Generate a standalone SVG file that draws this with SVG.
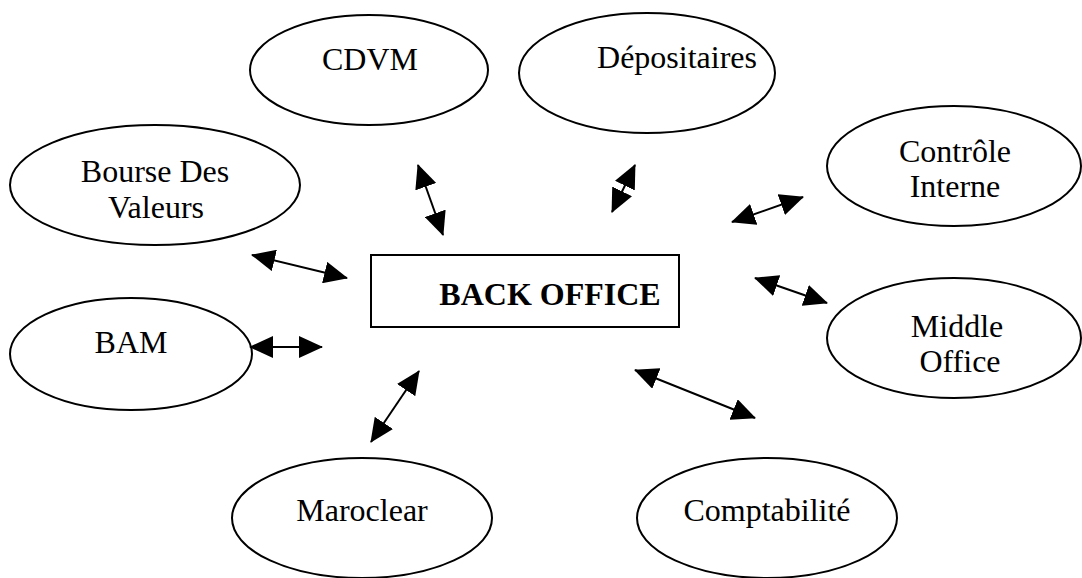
<svg xmlns="http://www.w3.org/2000/svg" width="1082" height="578" viewBox="0 0 1082 578">
<style>
.n{fill:#fff;stroke:#000;stroke-width:2}
.t{font-family:"Liberation Serif","Times New Roman",serif;font-size:32px;fill:#000;text-anchor:middle}
.b{font-weight:bold}
.c line{stroke:#000;stroke-width:2;marker-start:url(#ah);marker-end:url(#ah)}
</style>
<defs>
<marker id="ah" markerUnits="userSpaceOnUse" markerWidth="24" markerHeight="22" refX="23" refY="11" orient="auto-start-reverse">
<path d="M0,0 L24,11 L0,22 z" fill="#000"/>
</marker>
</defs>
<rect width="1082" height="578" fill="#fff"/>
<g id="cdvm"><ellipse class="n" cx="369" cy="70" rx="119" ry="55"/><text class="t" x="370" y="70">CDVM</text></g>
<g id="depositaires"><ellipse class="n" cx="647" cy="73" rx="128" ry="60"/><text class="t" x="677" y="68">Dépositaires</text></g>
<g id="bourse"><ellipse class="n" cx="155" cy="185" rx="145" ry="60"/><text class="t" x="155" y="182">Bourse Des</text><text class="t" x="156" y="218">Valeurs</text></g>
<g id="controle"><ellipse class="n" cx="954" cy="166" rx="127" ry="60"/><text class="t" x="955" y="162">Contrôle</text><text class="t" x="955" y="197">Interne</text></g>
<g id="bam"><ellipse class="n" cx="131" cy="354" rx="121" ry="56"/><text class="t" x="131" y="353">BAM</text></g>
<g id="backoffice"><rect class="n" x="371" y="255" width="308" height="72"/><text class="t b" x="550" y="305">BACK OFFICE</text></g>
<g id="middle"><ellipse class="n" cx="954" cy="338" rx="127" ry="60"/><text class="t" x="957" y="337">Middle</text><text class="t" x="960" y="372">Office</text></g>
<g id="maroclear"><ellipse class="n" cx="362" cy="518" rx="130" ry="60"/><text class="t" x="362" y="521">Maroclear</text></g>
<g id="comptabilite"><ellipse class="n" cx="767" cy="518" rx="130" ry="60"/><text class="t" x="767" y="521">Comptabilité</text></g>
<g id="connectors" class="c">
<line x1="252" y1="255" x2="347" y2="278"/>
<line x1="250" y1="347" x2="322" y2="347"/>
<line x1="418" y1="165" x2="443" y2="235"/>
<line x1="635" y1="165" x2="612" y2="212"/>
<line x1="732" y1="222" x2="803" y2="197"/>
<line x1="755" y1="278" x2="827" y2="303"/>
<line x1="419" y1="371" x2="371" y2="442"/>
<line x1="635" y1="370" x2="755" y2="418"/>
</g>
</svg>
